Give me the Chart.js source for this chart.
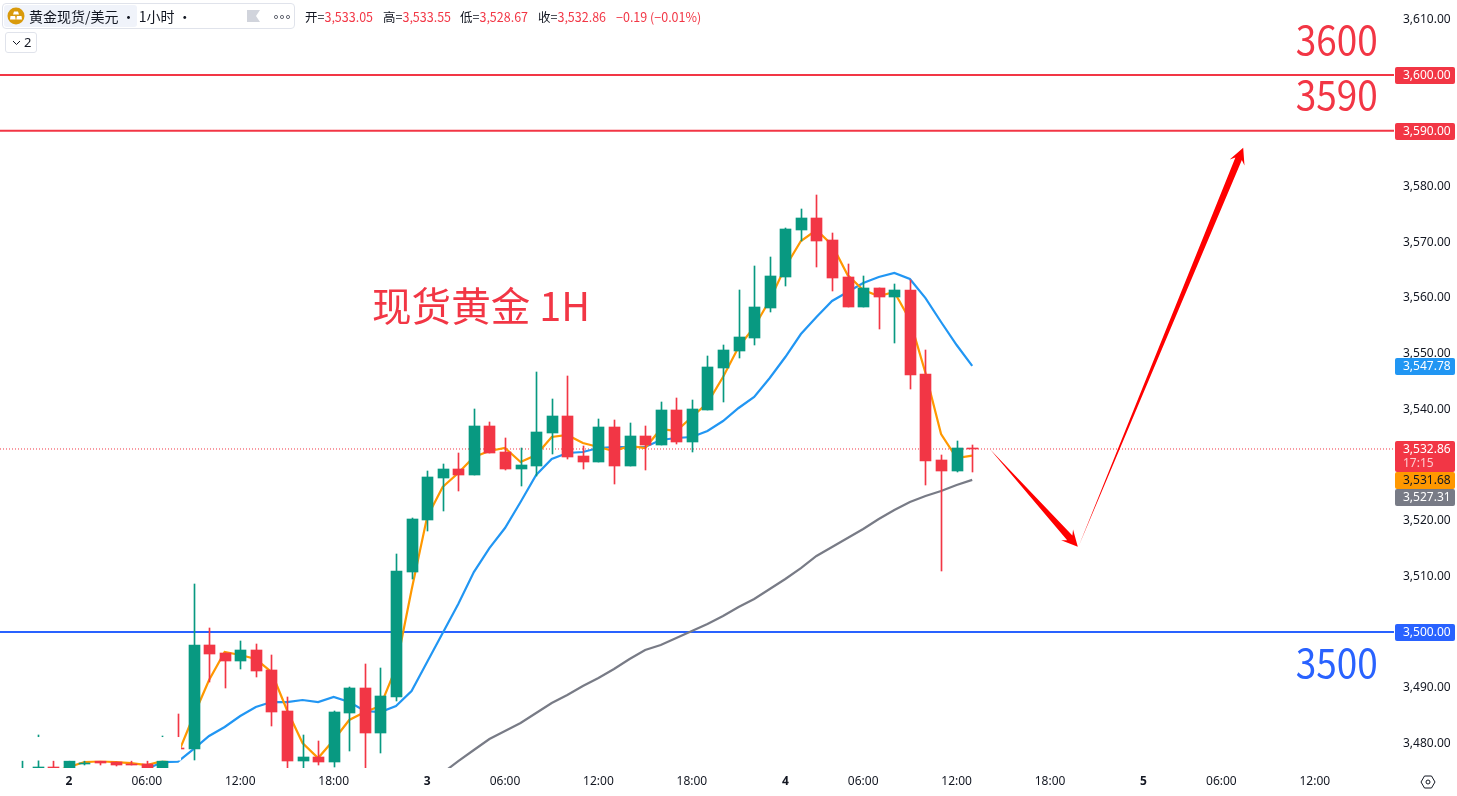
<!DOCTYPE html>
<html>
<head>
<meta charset="utf-8">
<title>黄金现货/美元 1小时</title>
<script src="https://cdn.jsdelivr.net/npm/chart.js@4/dist/chart.umd.js"></script>
<style>
  body { margin: 0; background: #fff; font-family: "Noto Sans", "Noto Sans CJK SC", sans-serif; color: #131722; overflow: hidden; }
  #wrap { position: relative; width: 1457px; height: 796px; }
  #myChart { position: absolute; left: 0; top: 0; }
  .head { position: absolute; left: 2px; top: 3px; width: 291px; height: 24px; border: 1px solid #e0e3eb; border-radius: 4px; background: #fff; }
  .hover { position: absolute; left: 1px; top: 1px; width: 133px; height: 22px; background: #f0f3fa; border-radius: 3px; }
  .coin { position: absolute; left: 4px; top: 3px; }
  .name { position: absolute; left: 26px; top: 0; line-height: 24px; font-size: 14px; white-space: nowrap; font-family: "Noto Sans CJK SC", sans-serif; }
  .flag { position: absolute; left: 244px; top: 6px; }
  .dots { position: absolute; left: 270px; top: 10px; }
  .ohlc { position: absolute; top: 8px; font-size: 12.5px; line-height: 18px; white-space: nowrap; font-family: "Noto Sans CJK SC", "Noto Sans", sans-serif; }
  .ohlc b { font-weight: normal; color: #f23645; }
  .folded { position: absolute; left: 5px; top: 32px; width: 30px; height: 19px; border: 1px solid #e0e3eb; border-radius: 3px; font-size: 13px; line-height: 19px; }
  .folded svg { position: absolute; left: 6px; top: 7px; }
  .folded span { position: absolute; left: 18px; top: 0; }
  .cog { position: absolute; left: 1420px; top: 775px; }
</style>
</head>
<body>
<div id="wrap">
  <canvas id="myChart" width="1457" height="796"></canvas>

  <div class="head">
    <div class="hover"></div>
    <svg class="coin" width="18" height="18" viewBox="0 0 18 18">
      <circle cx="9" cy="9" r="8.5" fill="#d99a0b"/>
      <path d="M7 4.5h4l1 3H6zM3.5 9h4.6l.6 3.5H3zM9.9 9h4.6l.5 3.5H9.3z" fill="#fff"/>
    </svg>
    <div class="name">黄金现货/美元 · 1小时 ·</div>
    <svg class="flag" width="13" height="12" viewBox="0 0 13 12"><path d="M0 0h13l-4 6 4 6H0z" fill="#d1d4dc"/></svg>
    <svg class="dots" width="18" height="6" viewBox="0 0 18 6" fill="none" stroke="#6a6d78">
      <circle cx="3" cy="3" r="1.6"/><circle cx="9" cy="3" r="1.6"/><circle cx="15" cy="3" r="1.6"/>
    </svg>
  </div>
  <div class="ohlc" style="left:305px">开=<b>3,533.05</b></div>
  <div class="ohlc" style="left:383px">高=<b>3,533.55</b></div>
  <div class="ohlc" style="left:460px">低=<b>3,528.67</b></div>
  <div class="ohlc" style="left:538px">收=<b>3,532.86</b></div>
  <div class="ohlc" style="left:616px"><b>−0.19 (−0.01%)</b></div>
  <div class="folded">
    <svg width="9" height="6" viewBox="0 0 9 6" fill="none" stroke="#131722"><path d="M1 1l3.5 3.5L8 1"/></svg>
    <span>2</span>
  </div>
  <svg class="cog" width="16" height="14" viewBox="0 0 16 14" fill="none" stroke="#131722">
    <path d="M4.5 1h7L15 7l-3.500 6h-7L1 7z"/><circle cx="8" cy="7" r="2"/>
  </svg>
</div>

<script>
var open = [3474.33,3474.6,3475.77,3475.2,3476.48,3476.84,3476.66,3476.30,3476.30,3475.59,3479.18,3478.99,3497.67,3496.23,3494.80,3496.77,3493.18,3485.82,3476.84,3477.56,3476.66,3485.46,3489.95,3481.87,3488.34,3510.77,3520.11,3527.65,3529.27,3528.19,3536.98,3532.32,3529.27,3529.80,3535.73,3538.78,3531.60,3530.52,3536.81,3529.80,3535.19,3533.57,3539.86,3534.11,3539.86,3547.40,3550.45,3552.78,3558.17,3563.73,3572.17,3574.33,3570.38,3563.73,3558.35,3561.76,3560.14,3561.40,3546.32,3530.88,3528.91,3533.05];
var high = [3476.84,3481.51,3476.84,3476.84,3476.84,3476.84,3476.66,3476.84,3476.84,3481.33,3485.28,3508.62,3500.72,3496.23,3498.39,3497.85,3495.88,3488.34,3481.51,3480.44,3485.82,3490.13,3494.26,3493.54,3514.00,3520.47,3528.91,3530.16,3532.14,3540.04,3537.70,3534.83,3533.04,3546.68,3541.83,3545.96,3533.40,3538.24,3538.06,3537.52,3536.98,3541.29,3542.01,3541.65,3549.55,3551.53,3561.40,3565.71,3567.33,3572.53,3575.94,3578.46,3571.63,3566.07,3563.91,3561.76,3562.48,3563.20,3550.63,3531.78,3534.29,3533.55];
var low = [3474.0,3474.4,3474.8,3475.2,3476.12,3476.12,3475.95,3476.12,3475.59,3475.59,3477.56,3477.02,3491.03,3489.95,3493.36,3491.92,3483.13,3475.0,3475.2,3476.12,3475.77,3478.64,3475.0,3478.28,3487.62,3509.52,3518.13,3521.73,3525.32,3528.19,3532.14,3529.09,3526.21,3528.01,3531.96,3531.06,3529.27,3530.52,3526.57,3529.80,3529.09,3533.57,3533.75,3532.32,3539.86,3541.29,3549.19,3551.53,3557.45,3562.12,3570.20,3565.53,3561.22,3558.35,3558.35,3554.40,3551.89,3543.63,3526.39,3510.95,3528.73,3528.67];
var close = [3474.87,3475.77,3475.0,3476.84,3476.57,3476.48,3476.12,3476.12,3475.59,3476.84,3478.99,3497.67,3496.06,3494.80,3496.77,3493.00,3485.64,3476.84,3477.56,3476.66,3485.64,3489.95,3481.87,3488.52,3510.95,3520.29,3527.83,3529.27,3528.19,3536.98,3532.14,3529.27,3529.98,3535.91,3538.78,3531.42,3530.52,3536.81,3529.80,3535.19,3533.57,3539.86,3534.11,3540.04,3547.58,3550.63,3552.96,3558.35,3563.91,3572.35,3574.33,3570.20,3563.56,3558.35,3561.76,3560.14,3561.40,3546.14,3530.70,3528.91,3533.04,3532.86];

// moving averages, first value belongs to the bar at the given start index
var orangeStart = 2;
var orange = [3474.87,3475.77,3476.66,3476.84,3476.66,3476.48,3476.12,3476.84,3478.10,3484.92,3491.38,3496.41,3495.88,3495.15,3492.82,3486.00,3480.08,3477.38,3480.61,3484.21,3485.64,3486.72,3493.54,3507.54,3520.65,3526.03,3528.55,3531.42,3532.50,3533.04,3530.52,3531.78,3535.01,3535.37,3533.93,3533.22,3532.50,3533.40,3533.04,3536.45,3536.09,3538.60,3541.11,3545.78,3551.17,3554.76,3559.61,3565.53,3570.20,3572.17,3569.48,3564.09,3561.40,3560.32,3561.04,3556.01,3546.50,3535.55,3531.24,3531.68];
var blueStart = 8;
var blue = [3475.41,3476.66,3476.75,3478.99,3481.33,3482.95,3484.92,3486.54,3487.43,3487.43,3487.80,3487.43,3488.34,3487.43,3485.82,3485.64,3486.72,3489.41,3494.62,3499.82,3505.03,3510.77,3515.08,3518.67,3523.34,3528.19,3531.06,3532.14,3532.32,3533.04,3533.22,3533.22,3533.22,3534.47,3534.83,3535.01,3536.09,3537.88,3540.22,3542.19,3545.60,3549.37,3553.50,3556.55,3559.43,3561.04,3562.66,3563.73,3564.45,3563.38,3559.96,3555.66,3551.53,3547.78];
var grayStart = 27;
var gray = [3474.69,3476.84,3478.82,3480.79,3482.23,3483.66,3485.46,3487.26,3488.69,3490.31,3491.75,3493.36,3495.15,3496.77,3497.67,3498.92,3500.18,3501.44,3502.87,3504.49,3505.93,3507.72,3509.52,3511.49,3513.65,3515.26,3516.88,3518.49,3520.29,3521.91,3523.34,3524.42,3525.32,3526.39,3527.31];

var xTickBars = [3,8,14,20,26,31,37,43,49,54,60,66,72,77,83];
var xTickLabels = ["2","06:00","12:00","18:00","3","06:00","12:00","18:00","4","06:00","12:00","18:00","5","06:00","12:00"];

var xMin = -1.4255, xMax = 88.083;
var yMin = 3475.59, yMax = 3613.465;
var redLevels = [3600, 3590];
var blueLevel = 3500;
var lastPrice = 3532.86;

var arrowFrom = [[62.13, 3532.86], [67.84, 3515.44]];
var arrowTo = [[67.78, 3515.3], [78.4, 3586.95]];

var red = "#f23645", green = "#089981", orangeC = "#ff9800", blueC = "#2196f3", grayC = "#787b86", levelBlue = "#2962ff";

var notes = [
  { text: "3600", x: 81.77, y: 3606.28, color: red, width: 82 },
  { text: "3590", x: 81.77, y: 3596.38, color: red, width: 82 },
  { text: "3500", x: 81.77, y: 3494.43, color: levelBlue, width: 82 },
  { text: "现货黄金 1H", x: 22.46, y: 3558.53, color: red, width: 218 }
];

var tags = [
  { price: 3600, bg: red, fg: "#fff" },
  { price: 3590, bg: red, fg: "#fff" },
  { price: 3547.78, bg: blueC, fg: "#fff" },
  { price: 3532.86, bg: red, fg: "#fff", sub: "17:15" },
  { price: 3531.68, bg: orangeC, fg: "#131722" },
  { price: 3527.31, bg: grayC, fg: "#fff" },
  { price: 3500, bg: levelBlue, fg: "#fff" }
];

function money(v) {
  return v.toLocaleString("en-US", { minimumFractionDigits: 2, maximumFractionDigits: 2 });
}

function series(values, start) {
  return values.map(function (v, i) { return { x: i + start, y: v }; });
}

function flat(level) {
  return [{ x: xMin, y: level }, { x: xMax, y: level }];
}

function lineSet(data, color, width, dash) {
  return { type: "line", data: data, borderColor: color, borderWidth: width, borderDash: dash || [], pointRadius: 0, tension: 0, order: 5, clip: 0 };
}

var candleColors = open.map(function (o, i) { return close[i] >= o ? green : red; });

var drawings = {
  id: "drawings",
  // snap candles to whole pixels so wicks stay sharp
  beforeDatasetsDraw: function (chart) {
    [0, 1].forEach(function (d) {
      chart.getDatasetMeta(d).data.forEach(function (el) {
        el.x = Math.round(el.x) + 0.5;
        el.y = Math.round(el.y);
        el.base = Math.round(el.base);
        if (el.y === el.base) el.base = el.y + 1;
      });
    });
  },
  afterDatasetsDraw: function (chart) {
    var c = chart.ctx, xs = chart.scales.x, ys = chart.scales.y;
    c.save();

    // blanked strip at the far left of the picture
    var maskTop = ys.getPixelForValue(3481.15), maskBottom = ys.getPixelForValue(3476.93);
    c.fillStyle = "#fff";
    c.fillRect(0, maskTop, xs.getPixelForValue(10.2), maskBottom - maskTop);

    // tapered arrows
    c.fillStyle = "#ff0000";
    arrowFrom.forEach(function (from, i) {
      var sx = xs.getPixelForValue(from[0]), sy = ys.getPixelForValue(from[1]);
      var tx = xs.getPixelForValue(arrowTo[i][0]), ty = ys.getPixelForValue(arrowTo[i][1]);
      var len = Math.hypot(tx - sx, ty - sy);
      var ux = (tx - sx) / len, uy = (ty - sy) / len, nx = -uy, ny = ux;
      c.beginPath();
      c.moveTo(sx, sy);
      c.lineTo(tx - ux * 12 + nx * 3.5, ty - uy * 12 + ny * 3.5);
      c.lineTo(tx - ux * 16 + nx * 8, ty - uy * 16 + ny * 8);
      c.lineTo(tx, ty);
      c.lineTo(tx - ux * 16 - nx * 8, ty - uy * 16 - ny * 8);
      c.lineTo(tx - ux * 12 - nx * 3.5, ty - uy * 12 - ny * 3.5);
      c.closePath();
      c.fill();
    });

    // big text notes
    c.font = '40px "Noto Sans CJK SC", sans-serif';
    c.textAlign = "left";
    c.textBaseline = "middle";
    notes.forEach(function (n) {
      c.fillStyle = n.color;
      c.fillText(n.text, xs.getPixelForValue(n.x), ys.getPixelForValue(n.y), n.width);
    });

    // price tags on the axis, pushed down when they would overlap
    var left = xs.right + 1, w = 60, prevBottom = -100;
    c.font = '12px "Noto Sans", sans-serif';
    tags.forEach(function (t) {
      var h = t.sub ? 31 : 17;
      var top = Math.max(Math.round(ys.getPixelForValue(t.price)) - 8, prevBottom);
      c.fillStyle = t.bg;
      c.beginPath();
      c.roundRect(left, top, w, h, 2);
      c.fill();
      c.fillStyle = t.fg;
      c.fillText(money(t.price), left + 8, top + 8.5);
      if (t.sub) {
        c.fillStyle = "rgba(255,255,255,0.75)";
        c.fillText(t.sub, left + 8, top + 23);
      }
      prevBottom = top + h;
    });
    c.restore();
  }
};

var ctx = document.getElementById("myChart").getContext("2d");
var myChart = new Chart(ctx, {
  type: "bar",
  data: {
    datasets: [
      {
        data: open.map(function (o, i) { return { x: i, y: [o, close[i]] }; }),
        backgroundColor: candleColors, barThickness: 11, grouped: false, order: 1, clip: 0
      },
      {
        data: open.map(function (o, i) { return { x: i, y: [low[i], high[i]] }; }),
        backgroundColor: candleColors, barThickness: 1, grouped: false, order: 2, clip: 0
      },
      lineSet(series(orange, orangeStart), orangeC, 2.2),
      lineSet(series(blue, blueStart), blueC, 2.2),
      lineSet(series(gray, grayStart), grayC, 2.2),
      lineSet(flat(redLevels[0]), red, 2),
      lineSet(flat(redLevels[1]), red, 2),
      lineSet(flat(blueLevel), levelBlue, 2),
      lineSet(flat(lastPrice), red, 1, [1, 2])
    ]
  },
  options: {
    responsive: false,
    animation: false,
    devicePixelRatio: 1,
    layout: { padding: 0 },
    plugins: { legend: { display: false }, tooltip: { enabled: false } },
    events: [],
    scales: {
      x: {
        type: "linear",
        offset: false,
        min: xMin,
        max: xMax,
        grid: { display: false, drawTicks: false },
        border: { display: false },
        afterBuildTicks: function (s) { s.ticks = xTickBars.map(function (v) { return { value: v }; }); },
        afterFit: function (s) { s.height = 28; s.paddingLeft = 0; s.paddingRight = 0; },
        ticks: {
          autoSkip: false,
          maxRotation: 0,
          padding: 6,
          color: "#131722",
          font: function (c) {
            return { family: '"Noto Sans", sans-serif', size: 12, weight: /:/.test(xTickLabels[c.index]) ? "normal" : "bold" };
          },
          callback: function (v, i) { return xTickLabels[i]; }
        }
      },
      y: {
        type: "linear",
        position: "right",
        min: yMin,
        max: yMax,
        grid: { display: false, drawTicks: false },
        border: { display: false },
        afterFit: function (s) { s.width = 63; s.paddingTop = 0; s.paddingBottom = 0; },
        ticks: {
          stepSize: 10,
          includeBounds: false,
          padding: 9,
          color: "#131722",
          font: { family: '"Noto Sans", sans-serif', size: 12 },
          callback: function (v) { return money(v); }
        }
      }
    }
  },
  plugins: [drawings]
});
</script>
</body>
</html>
